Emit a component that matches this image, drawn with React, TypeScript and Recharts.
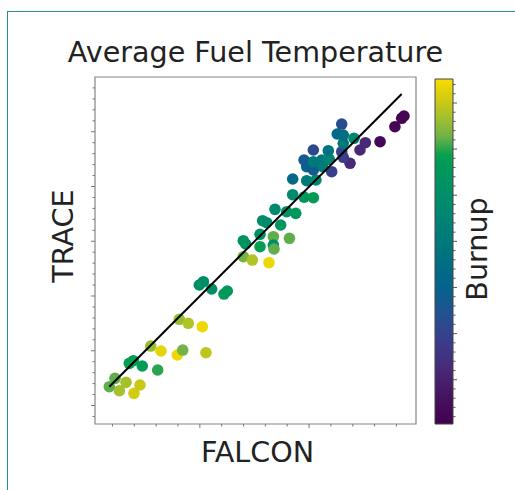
import React from 'react';
import { ScatterChart, Scatter, XAxis, YAxis, ReferenceArea, ComposedChart } from 'recharts';

// FALCON (x), TRACE (y) average fuel temperature, and burnup (colour)
const falcon = [
  717.1, 722.3, 726.3, 732.4, 739.7, 745.2, 735.4, 739.1, 747.3, 761.4,
  755.0, 764.4, 779.4, 784.3, 781.2, 789.4, 802.2, 805.6, 799.5, 803.2,
  810.8, 822.1, 825.1, 839.8, 848.0, 863.3, 839.8, 842.0, 855.1, 855.1,
  867.3, 867.3, 867.9, 882.0, 857.5, 861.2, 868.8, 874.0, 879.5, 887.8,
  885.0, 895.4, 903.9, 885.0, 897.8, 906.3, 897.8, 903.9, 912.5, 920.7,
  895.4, 903.9, 911.6, 918.5, 937.5, 903.9, 917.6, 929.9, 931.3, 931.3,
  951.5, 946.6, 965.0, 925.8, 931.3, 941.1, 929.9, 978.6, 984.8, 986.9,
];
const trace = [
  734.3, 749.6, 727.0, 742.3, 722.2, 737.4, 777.0, 781.8, 772.1, 764.8,
  808.6, 799.5, 792.2, 801.3, 857.4, 850.1, 843.9, 796.4, 920.1, 926.1,
  912.8, 903.6, 909.1, 971.8, 965.7, 960.8, 1001.0, 995.0, 1012.7, 990.0,
  1008.3, 993.1, 985.8, 1005.4, 1037.5, 1033.9, 1058.3, 1029.7, 1054.0, 1051.0,
  1085.0, 1080.5, 1079.5, 1113.7, 1110.6, 1111.9, 1136.2, 1130.1, 1136.2, 1127.0,
  1148.4, 1145.3, 1148.4, 1149.7, 1142.4, 1166.7, 1165.4, 1163.6, 1153.3, 1178.9,
  1180.0, 1166.7, 1181.8, 1195.9, 1194.1, 1188.0, 1214.1, 1209.2, 1224.6, 1228.8,
];
const burnup = [
  62, 62, 67, 67, 71, 70, 58, 58, 57, 60,
  66, 73, 74, 63, 66, 68, 74, 69, 50, 50,
  50, 56, 56, 63, 68, 74, 53, 53, 52, 58,
  62, 50, 62, 62, 49, 49, 48, 54, 52, 55,
  48, 55, 57, 32, 41, 47, 30, 27, 41, 19,
  27, 40, 41, 45, 12, 22, 38, 19, 18, 40,
  12, 12, 3, 33, 36, 47, 23, 2, 2, 2,
];

// fitted line endpoints
const fitX = [717.1, 984.8];
const fitY = [734.3, 1269.0];

// axis ticks (unlabelled in the original)
const xTicks = [720, 740, 760, 780, 800, 820, 840, 860, 880, 900, 920, 940, 960, 980];
const yTicks = [680, 700, 720, 740, 760, 780, 800, 820, 840, 860, 880, 900, 920, 940, 960, 980,
  1000, 1020, 1040, 1060, 1080, 1100, 1120, 1140, 1160, 1180, 1200, 1220, 1240, 1260, 1280];
const cbTicks = [2, 4, 6, 8, 10, 12, 14, 16, 18, 20, 22, 24, 26, 28, 30, 32, 34, 36, 38, 40,
  42, 44, 46, 48, 50, 52, 54, 56, 58, 60, 62, 64, 66, 68, 70, 72, 74];

const X_DOMAIN = [704, 997.9];
const Y_DOMAIN = [666.2, 1300];
const B_DOMAIN = [0.4, 75.2];

const CMAP: [number, string][] = [
  [0.0, '#43004f'],
  [0.08, '#46135e'],
  [0.16, '#472a78'],
  [0.25, '#383f8c'],
  [0.33, '#1e5590'],
  [0.38, '#0a5e8e'],
  [0.45, '#006c84'],
  [0.55, '#007c78'],
  [0.65, '#008c6c'],
  [0.75, '#009a58'],
  [0.78, '#06a04e'],
  [0.83, '#6cb04a'],
  [0.88, '#9cbe30'],
  [0.93, '#c8c818'],
  [1.0, '#f8dc00'],
];

function hexToRgb(h: string) {
  const n = parseInt(h.slice(1), 16);
  return [(n >> 16) & 255, (n >> 8) & 255, n & 255];
}
function colorFor(v: number) {
  const f = Math.max(0, Math.min(1, (v - B_DOMAIN[0]) / (B_DOMAIN[1] - B_DOMAIN[0])));
  for (let i = 0; i < CMAP.length - 1; i++) {
    const [f0, c0] = CMAP[i];
    const [f1, c1] = CMAP[i + 1];
    if (f >= f0 && f <= f1) {
      const t = (f - f0) / (f1 - f0);
      const a = hexToRgb(c0);
      const b = hexToRgb(c1);
      const r = a.map((x, k) => Math.round(x + (b[k] - x) * t));
      return `rgb(${r[0]},${r[1]},${r[2]})`;
    }
  }
  return CMAP[CMAP.length - 1][1];
}

const points = falcon.map((x, i) => ({ x, y: trace[i], b: burnup[i] }));
const fitLine = fitX.map((x, i) => ({ x, y: fitY[i] }));

const TICK = '#777';

const XTick = (props: any) => {
  const { x, y, payload } = props;
  const major = payload.value % 100 === 0;
  return <line x1={x} x2={x} y1={y} y2={y + (major ? 4 : 2.5)} stroke={TICK} strokeWidth={1} />;
};
const YTick = (props: any) => {
  const { x, y, payload } = props;
  const major = payload.value % 100 === 0;
  return <line x1={x} x2={x - (major ? 4 : 2.5)} y1={y} y2={y} stroke={TICK} strokeWidth={1} />;
};
const CbTick = (props: any) => {
  const { x, y, payload } = props;
  const major = payload.value % 10 === 0;
  return <line x1={x} x2={x + (major ? 4 : 2.5)} y1={y} y2={y} stroke="#555" strokeWidth={1} />;
};

const Dot = (props: any) => {
  const { cx, cy, payload } = props;
  return <circle cx={cx} cy={cy} r={5.8} fill={colorFor(payload.b)} />;
};

const font = '"DejaVu Sans", Verdana, sans-serif';
const layer: React.CSSProperties = { position: 'absolute', left: 0, top: 0 };

export default function App() {
  return (
    <div style={{ position: 'absolute', left: 0, top: 0, width: 515, height: 490, background: '#fff', overflow: 'hidden' }}>
      <div style={{ position: 'absolute', left: 7, top: 11, width: 520, height: 500, borderLeft: '1.5px solid #2a9189', borderTop: '1.5px solid #2a9189' }} />
      <div style={layer}>
        <ScatterChart width={515} height={490} margin={{ top: 77, left: 94, right: 99, bottom: 65 }}>
          <XAxis
            type="number"
            dataKey="x"
            domain={X_DOMAIN}
            allowDataOverflow
            ticks={xTicks}
            tick={<XTick />}
            tickLine={false}
            axisLine={false}
            tickSize={0}
            tickMargin={0}
            height={1}
            interval={0}
          />
          <YAxis
            type="number"
            dataKey="y"
            domain={Y_DOMAIN}
            allowDataOverflow
            ticks={yTicks}
            tick={<YTick />}
            tickLine={false}
            axisLine={false}
            tickSize={0}
            tickMargin={0}
            width={1}
            interval={0}
          />
          <ReferenceArea
            x1={X_DOMAIN[0]}
            x2={X_DOMAIN[1]}
            y1={Y_DOMAIN[0]}
            y2={Y_DOMAIN[1]}
            fill="none"
            stroke="#858585"
            strokeWidth={1.2}
          />
          <Scatter data={points} shape={<Dot />} isAnimationActive={false} />
          <Scatter
            data={fitLine}
            line={{ stroke: '#000', strokeWidth: 2 }}
            shape={() => <g />}
            isAnimationActive={false}
          />
        </ScatterChart>
      </div>
      <div style={layer}>
        <ComposedChart width={515} height={490} margin={{ top: 79, left: 435, right: 61, bottom: 66 }}>
          <defs>
            <linearGradient id="cbGrad" x1="0" y1="1" x2="0" y2="0">
              {CMAP.map(([f, c]) => (
                <stop key={f} offset={`${f * 100}%`} stopColor={c} />
              ))}
            </linearGradient>
          </defs>
          <XAxis type="number" dataKey="x" domain={[0, 1]} hide allowDataOverflow />
          <YAxis
            type="number"
            orientation="right"
            domain={B_DOMAIN}
            allowDataOverflow
            ticks={cbTicks}
            tick={<CbTick />}
            tickLine={false}
            axisLine={false}
            tickSize={0}
            tickMargin={0}
            width={1}
            interval={0}
          />
          <ReferenceArea x1={0} x2={1} y1={B_DOMAIN[0]} y2={B_DOMAIN[1]} fill="url(#cbGrad)" fillOpacity={1} stroke="#444" strokeWidth={1} />
        </ComposedChart>
      </div>
      <svg width={515} height={490} style={{ ...layer, pointerEvents: 'none' }}>
        <g fontFamily={font} fontSize={28.6} fill="#222">
          <text x={255.5} y={61.7} textAnchor="middle">Average Fuel Temperature</text>
          <text x={257.5} y={461.7} textAnchor="middle">FALCON</text>
          <text x={73.3} y={236} textAnchor="middle" transform="rotate(-90 73.3 236)">TRACE</text>
          <text x={486.7} y={249} textAnchor="middle" transform="rotate(-90 486.7 249)">Burnup</text>
        </g>
      </svg>
    </div>
  );
}
